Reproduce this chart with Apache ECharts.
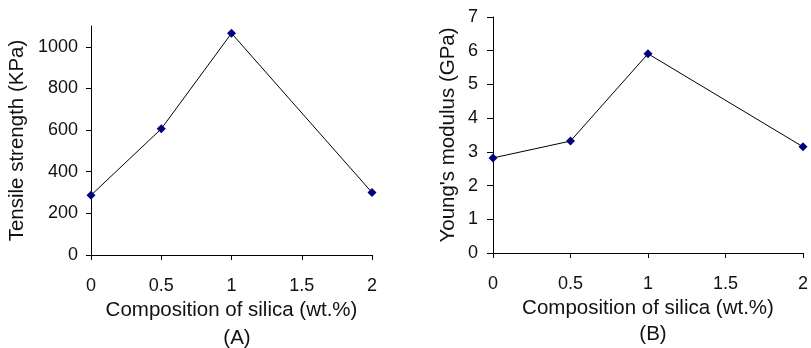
<!DOCTYPE html>
<html>
<head>
<meta charset="utf-8">
<script src="https://cdn.jsdelivr.net/npm/echarts@6/dist/echarts.min.js"></script>
<style>
html,body{margin:0;padding:0;background:#fff;}
#c{width:811px;height:348px;}
</style>
</head>
<body>
<div id="c"></div>
<script>
var silicaA = [0, 0.5, 1, 2];
var tensileKPa = [287, 606, 1065, 300];
var silicaB = [0, 0.5, 1, 2];
var youngsGPa = [2.82, 3.32, 5.91, 3.15];
var xTicks = [0, 0.5, 1, 1.5, 2];
var yTicksA = [0, 200, 400, 600, 800, 1000];
var yTicksB = [0, 1, 2, 3, 4, 5, 6, 7];

var font = 'Liberation Sans, Arial, sans-serif';
var tickTxt = {color: '#111', fontFamily: font, fontSize: 18};
var titleTxt = {color: '#111', fontFamily: font, fontSize: 20.5, fontWeight: 'normal'};
function pairs(xs, ys){ return xs.map(function(x,i){return [x, ys[i]];}); }
function plain(v){ return String(v); }

var axisLine = {show: true, onZero: false, lineStyle: {color: '#000', width: 1}};

var chart = echarts.init(document.getElementById('c'), null, {renderer: 'canvas'});
chart.setOption({
  backgroundColor: '#fff',
  animation: false,
  title: [
    {text: '(A)', left: 232, top: 323, textAlign: 'center', textStyle: titleTxt},
    {text: '(B)', left: 648, top: 319, textAlign: 'center', textStyle: titleTxt}
  ],
  grid: [
    {left: 91, top: 26, width: 281, height: 229},
    {left: 493, top: 17, width: 310, height: 236}
  ],
  xAxis: [
    {gridIndex: 0, type: 'value', min: 0, max: 2, interval: 0.5,
     name: 'Composition of silica (wt.%)', nameLocation: 'middle', nameGap: 37, nameTextStyle: titleTxt,
     axisLine: axisLine, splitLine: {show: false},
     axisTick: {show: true, inside: false, length: 5, customValues: xTicks, lineStyle: {color: '#000'}},
     axisLabel: Object.assign({margin: 22, customValues: xTicks, formatter: plain}, tickTxt)},
    {gridIndex: 1, type: 'value', min: 0, max: 2, interval: 0.5,
     name: 'Composition of silica (wt.%)', nameLocation: 'middle', nameGap: 44, nameTextStyle: titleTxt,
     axisLine: axisLine, splitLine: {show: false},
     axisTick: {show: true, inside: false, length: 5, customValues: xTicks, lineStyle: {color: '#000'}},
     axisLabel: Object.assign({margin: 22, customValues: xTicks, formatter: plain}, tickTxt)}
  ],
  yAxis: [
    {gridIndex: 0, type: 'value', min: 0, max: 1100,
     name: 'Tensile strength (KPa)', nameLocation: 'middle', nameGap: 63, nameTextStyle: titleTxt,
     axisLine: axisLine, splitLine: {show: false},
     axisTick: {show: true, inside: false, length: 5, customValues: yTicksA, lineStyle: {color: '#000'}},
     axisLabel: Object.assign({margin: 13, customValues: yTicksA, formatter: plain}, tickTxt)},
    {gridIndex: 1, type: 'value', min: 0, max: 7, interval: 1,
     name: "Young's modulus (GPa)", nameLocation: 'middle', nameGap: 34, nameTextStyle: titleTxt,
     axisLine: axisLine, splitLine: {show: false},
     axisTick: {show: true, inside: false, length: 6, customValues: yTicksB, lineStyle: {color: '#000'}},
     axisLabel: Object.assign({margin: 15, customValues: yTicksB, formatter: plain}, tickTxt)}
  ],
  series: [
    {type: 'line', xAxisIndex: 0, yAxisIndex: 0, data: pairs(silicaA, tensileKPa),
     symbol: 'diamond', symbolSize: 9, lineStyle: {color: '#000', width: 1},
     itemStyle: {color: '#000080'}},
    {type: 'line', xAxisIndex: 1, yAxisIndex: 1, data: pairs(silicaB, youngsGPa),
     symbol: 'diamond', symbolSize: 9, lineStyle: {color: '#000', width: 1},
     itemStyle: {color: '#000080'}}
  ]
});
</script>
</body>
</html>
